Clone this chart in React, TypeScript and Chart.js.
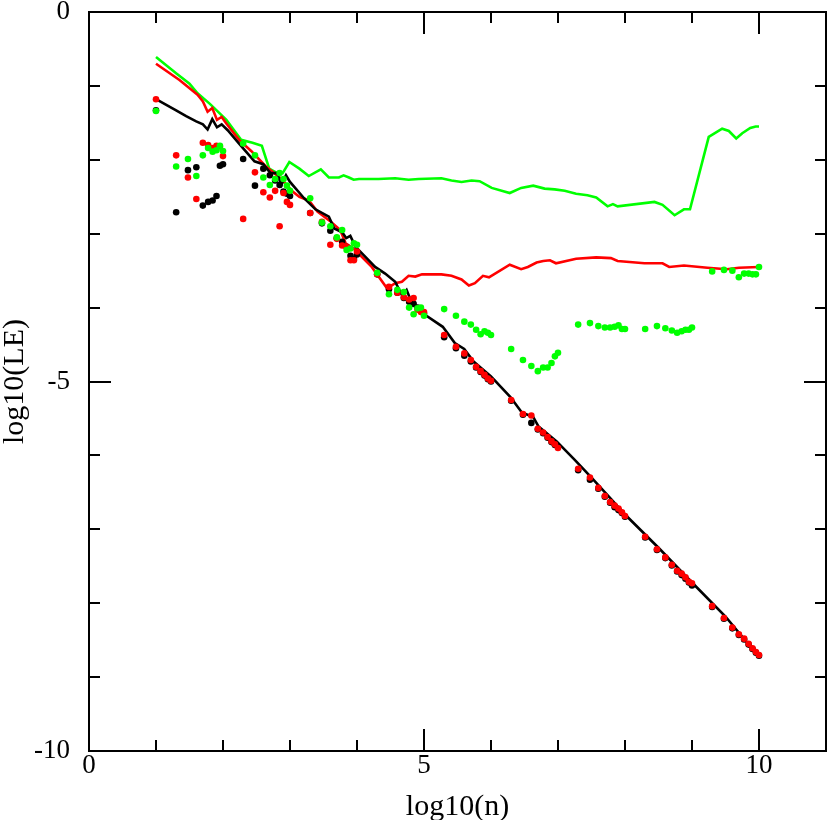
// App.tsx
import React, { useEffect, useRef } from "react";
import { Chart, registerables } from "chart.js";

Chart.register(...registerables);

// log10(n) for n = 10, 20, ... 90, 100, 200, ... 10^10
const dotX = [
  1, 1.301, 1.477, 1.602, 1.699, 1.778, 1.845, 1.903, 1.954,
  2, 2.301, 2.477, 2.602, 2.699, 2.778, 2.845, 2.903, 2.954,
  3, 3.301, 3.477, 3.602, 3.699, 3.778, 3.845, 3.903, 3.954,
  4, 4.301, 4.477, 4.602, 4.699, 4.778, 4.845, 4.903, 4.954,
  5, 5.301, 5.477, 5.602, 5.699, 5.778, 5.845, 5.903, 5.954,
  6, 6.301, 6.477, 6.602, 6.699, 6.778, 6.845, 6.903, 6.954,
  7, 7.301, 7.477, 7.602, 7.699, 7.778, 7.845, 7.903, 7.954,
  8, 8.301, 8.477, 8.602, 8.699, 8.778, 8.845, 8.903, 8.954,
  9, 9.301, 9.477, 9.602, 9.699, 9.778, 9.845, 9.903, 9.954,
  10,
];

const blackDots = [
  -1.33, -2.71, -2.14, -2.1, -2.62, -2.57, -2.55, -2.49, -2.08,
  -2.06, -1.99, -2.35, -2.12, -2.21, -2.28, -2.34, -2.43, -2.46,
  -2.49, -2.72, -2.86, -2.96, -3.06, -3.11, -3.18, -3.3, -3.34,
  -3.28, -3.55, -3.75, -3.8, -3.87, -3.92, -3.95, -4.0, -4.03,
  -4.08, -4.4, -4.55, -4.65, -4.73, -4.81, -4.87, -4.92, -4.97,
  -5.0, -5.26, -5.45, -5.56, -5.65, -5.7, -5.76, -5.82, -5.86,
  -5.88, -6.2, -6.33, -6.45, -6.56, -6.64, -6.7, -6.74, -6.78,
  -6.83, -7.11, -7.28, -7.39, -7.49, -7.57, -7.62, -7.67, -7.72,
  -7.76, -8.05, -8.21, -8.34, -8.43, -8.49, -8.56, -8.62, -8.67,
  -8.71,
];

const redDots = [
  -1.18, -1.94, -2.24, -2.53, -1.77, -1.8, -1.84, -1.81, -1.82,
  -1.95, -2.8, -2.17, -2.44, -2.51, -2.42, -2.9, -2.45, -2.57,
  -2.61, -2.72, -2.84, -3.15, -3.07, -3.16, -3.18, -3.36, -3.36,
  -3.24, -3.55, -3.72, -3.8, -3.86, -3.89, -3.87, -4.03, -4.06,
  -4.06, -4.37, -4.53, -4.62, -4.71, -4.8, -4.86, -4.91, -4.96,
  -4.99, -5.25, -5.44, -5.46, -5.64, -5.69, -5.75, -5.81, -5.85,
  -5.9, -6.18, -6.3, -6.44, -6.55, -6.63, -6.68, -6.72, -6.77,
  -6.82, -7.1, -7.27, -7.38, -7.48, -7.56, -7.6, -7.65, -7.71,
  -7.73, -8.04, -8.2, -8.33, -8.42, -8.48, -8.55, -8.61, -8.66,
  -8.7,
];

const greenDots = [
  -1.34, -2.09, -1.99, -2.22, -1.94, -1.84, -1.89, -1.87, -1.81,
  -1.88, -1.78, -1.94, -2.24, -2.34, -2.26, -2.18, -2.26, -2.35,
  -2.42, -2.52, -2.85, -2.9, -3.05, -2.95, -3.22, -3.2, -3.13,
  -3.15, -3.53, -3.82, -3.76, -3.79, -4.0, -4.09, -4.01, -4.0,
  -4.11, -4.02, -4.11, -4.19, -4.23, -4.3, -4.36, -4.32, -4.34,
  -4.37, -4.56, -4.71, -4.79, -4.86, -4.81, -4.81, -4.75, -4.66,
  -4.61, -4.23, -4.21, -4.25, -4.27, -4.27, -4.26, -4.24, -4.29,
  -4.29, -4.29, -4.25, -4.28, -4.31, -4.34, -4.32, -4.3, -4.3,
  -4.27, -3.51, -3.49, -3.5, -3.59, -3.54, -3.54, -3.55, -3.55,
  -3.45,
];

const blackLineX = [
  1, 1.3, 1.45, 1.6, 1.7, 1.77, 1.84, 1.91, 1.98, 2.07, 2.24, 2.47, 2.6,
  2.71, 2.81, 2.87, 2.94, 3, 3.21, 3.38, 3.58, 3.66, 3.78, 3.84, 3.9, 3.98,
  4.1, 4.27, 4.42, 4.57, 4.67, 4.74, 4.82, 5.02, 5.28, 5.46, 5.6, 5.74,
  5.87, 6, 6.29, 6.46, 6.63, 6.71, 6.98, 7.25, 7.5, 7.8, 8, 8.5, 9, 9.5, 10,
];
const blackLineY = [
  -1.18, -1.33, -1.41, -1.48, -1.52, -1.59, -1.45, -1.56, -1.52, -1.6,
  -1.78, -2.02, -2.06, -2.18, -2.18, -2.34, -2.21, -2.3, -2.52, -2.67,
  -2.77, -2.93, -2.98, -3.06, -3.03, -3.18, -3.29, -3.45, -3.54, -3.65,
  -3.83, -3.76, -3.94, -4.1, -4.26, -4.48, -4.56, -4.73, -4.83, -4.93,
  -5.21, -5.42, -5.48, -5.61, -5.81, -6.06, -6.3, -6.6, -6.8, -7.25,
  -7.72, -8.18, -8.73,
];

const redLineX = [
  1, 1.35, 1.62, 1.7, 1.77, 1.84, 1.91, 1.98, 2.05, 2.24, 2.42, 2.64, 2.86,
  3.04, 3.14, 3.28, 3.41, 3.6, 3.75, 3.83, 3.95, 4.22, 4.45, 4.57, 4.67,
  4.77, 4.87, 4.97, 5.26, 5.41, 5.56, 5.67, 5.76, 5.88, 5.97, 6.28, 6.45,
  6.55, 6.68, 6.78, 6.88, 6.97, 7.27, 7.57, 7.79, 7.89, 8.29, 8.56, 8.66,
  8.88, 9.23, 9.52, 9.7, 10,
];
const redLineY = [
  -0.7, -0.92, -1.12, -1.21, -1.35, -1.3, -1.46, -1.42, -1.51, -1.73,
  -1.88, -2.09, -2.25, -2.43, -2.5, -2.55, -2.7, -2.83, -2.95, -3.13,
  -3.2, -3.45, -3.74, -3.67, -3.65, -3.57, -3.58, -3.55, -3.55, -3.57,
  -3.62, -3.7, -3.67, -3.57, -3.59, -3.42, -3.48, -3.45, -3.39, -3.37,
  -3.36, -3.4, -3.34, -3.32, -3.33, -3.37, -3.4, -3.4, -3.45, -3.43,
  -3.46, -3.48, -3.46, -3.45,
];

const greenLineX = [
  1, 1.3, 1.5, 1.62, 1.8, 1.87, 2.05, 2.27, 2.44, 2.58, 2.69, 2.79, 2.89,
  2.99, 3.14, 3.28, 3.46, 3.58, 3.73, 3.8, 3.88, 3.95, 4.03, 4.32, 4.57,
  4.77, 4.92, 5.26, 5.41, 5.56, 5.71, 5.83, 6.01, 6.28, 6.45, 6.63, 6.8,
  6.95, 7.1, 7.27, 7.44, 7.57, 7.74, 7.82, 7.89, 8.44, 8.56, 8.74, 8.88,
  8.97, 9.25, 9.45, 9.55, 9.66, 9.75, 9.87, 9.95, 10,
];
const greenLineY = [
  -0.61, -0.83, -0.97, -1.1, -1.24, -1.3, -1.46, -1.73, -1.77, -1.81,
  -2.12, -2.17, -2.18, -2.03, -2.12, -2.22, -2.13, -2.24, -2.24, -2.21,
  -2.24, -2.27, -2.26, -2.26, -2.25, -2.27, -2.26, -2.25, -2.28, -2.3,
  -2.28, -2.29, -2.38, -2.45, -2.38, -2.35, -2.39, -2.4, -2.42, -2.46,
  -2.48, -2.51, -2.63, -2.6, -2.63, -2.57, -2.61, -2.75, -2.67, -2.67,
  -1.69, -1.58, -1.61, -1.71, -1.64, -1.57, -1.55, -1.55,
];

const xTickValues = [0, 1, 2, 3, 4, 5, 6, 7, 8, 9, 10, 11];
const yTickValues = [0, -1, -2, -3, -4, -5, -6, -7, -8, -9, -10];

const FONT = "'Liberation Serif', 'Times New Roman', serif";
const GREEN = "#00ff00";
const RED = "#ff0000";
const BLACK = "#000000";

const pts = (xs: number[], ys: number[]) =>
  xs.map((x, i) => ({ x, y: ys[i] }));

// frame + inward ticks on all four sides, like the original plot
const framePlugin = {
  id: "frame",
  afterDraw(chart: Chart) {
    const { ctx, chartArea } = chart;
    const { left, right, top, bottom } = chartArea;
    const xs = chart.scales.x;
    const ys = chart.scales.y;
    ctx.save();
    ctx.strokeStyle = "#000";
    ctx.lineWidth = 2;
    ctx.beginPath();
    xTickValues.forEach((v) => {
      const px = Math.round(xs.getPixelForValue(v));
      const len = v % 5 === 0 ? 22 : 11;
      ctx.moveTo(px, bottom);
      ctx.lineTo(px, bottom - len);
      ctx.moveTo(px, top);
      ctx.lineTo(px, top + len);
    });
    yTickValues.forEach((v) => {
      const py = Math.round(ys.getPixelForValue(v));
      const len = v % 5 === 0 ? 22 : 11;
      ctx.moveTo(left, py);
      ctx.lineTo(left + len, py);
      ctx.moveTo(right, py);
      ctx.lineTo(right - len, py);
    });
    ctx.stroke();
    ctx.strokeRect(left, top, right - left, bottom - top);
    ctx.restore();
  },
};

const App: React.FC = () => {
  const chartRef = useRef<HTMLCanvasElement>(null);
  const chartInstance = useRef<Chart | null>(null);

  useEffect(() => {
    if (!chartRef.current) return;
    if (chartInstance.current) chartInstance.current.destroy();
    const ctx = chartRef.current.getContext("2d");
    if (!ctx) return;

    const lineSet = (label: string, color: string, xs: number[], ys: number[], order: number) => ({
      label,
      data: pts(xs, ys),
      showLine: true,
      borderColor: color,
      borderWidth: 2.6,
      pointRadius: 0,
      tension: 0,
      order,
    });
    const dotSet = (label: string, color: string, ys: number[], order: number) => ({
      label,
      data: pts(dotX, ys),
      showLine: false,
      backgroundColor: color,
      pointRadius: 3.3,
      pointBorderWidth: 0,
      order,
    });

    chartInstance.current = new Chart(ctx, {
      type: "scatter",
      data: {
        datasets: [
          dotSet("green dots", GREEN, greenDots, 0),
          dotSet("red dots", RED, redDots, 1),
          dotSet("black dots", BLACK, blackDots, 2),
          lineSet("black", BLACK, blackLineX, blackLineY, 3),
          lineSet("red", RED, redLineX, redLineY, 4),
          lineSet("green", GREEN, greenLineX, greenLineY, 5),
        ],
      },
      options: {
        animation: false,
        responsive: true,
        maintainAspectRatio: false,
        layout: { padding: { top: 12, right: 1, left: 0, bottom: 0 } },
        plugins: {
          legend: { display: false },
          tooltip: { enabled: false },
        },
        scales: {
          x: {
            type: "linear",
            min: 0,
            max: 11,
            grid: { display: false },
            border: { display: false },
            ticks: {
              stepSize: 1,
              autoSkip: false,
              maxRotation: 0,
              padding: -9,
              color: "#000",
              font: { family: FONT, size: 27 },
              callback: (v: any) => (Number(v) % 5 === 0 ? String(v) : ""),
            },
            title: {
              display: true,
              text: "log10(n)",
              color: "#000",
              padding: { top: 0, bottom: -2 },
              font: { family: FONT, size: 30, lineHeight: 1 },
            },
            afterFit: (s: any) => {
              s.height = 69;
              s.paddingLeft = 0;
              s.paddingRight = 0;
            },
          },
          y: {
            type: "linear",
            min: -10,
            max: 0,
            grid: { display: false },
            border: { display: false },
            ticks: {
              stepSize: 1,
              autoSkip: false,
              padding: 11,
              color: "#000",
              font: { family: FONT, size: 27 },
              callback: (v: any) => (Number(v) % 5 === 0 ? String(v) : ""),
            },
            title: {
              display: true,
              text: "log10(LE)",
              color: "#000",
              padding: 0,
              font: { family: FONT, size: 30, lineHeight: 1 },
            },
            afterFit: (s: any) => {
              s.width = 89;
              s.paddingTop = 0;
              s.paddingBottom = 0;
            },
          },
        },
      },
      plugins: [framePlugin],
    });

    return () => {
      if (chartInstance.current) {
        chartInstance.current.destroy();
        chartInstance.current = null;
      }
    };
  }, []);

  return (
    <div
      style={{
        position: "fixed",
        left: 0,
        top: 0,
        width: 830,
        height: 820,
        background: "#fff",
      }}
    >
      <canvas ref={chartRef}></canvas>
    </div>
  );
};

export default App;
